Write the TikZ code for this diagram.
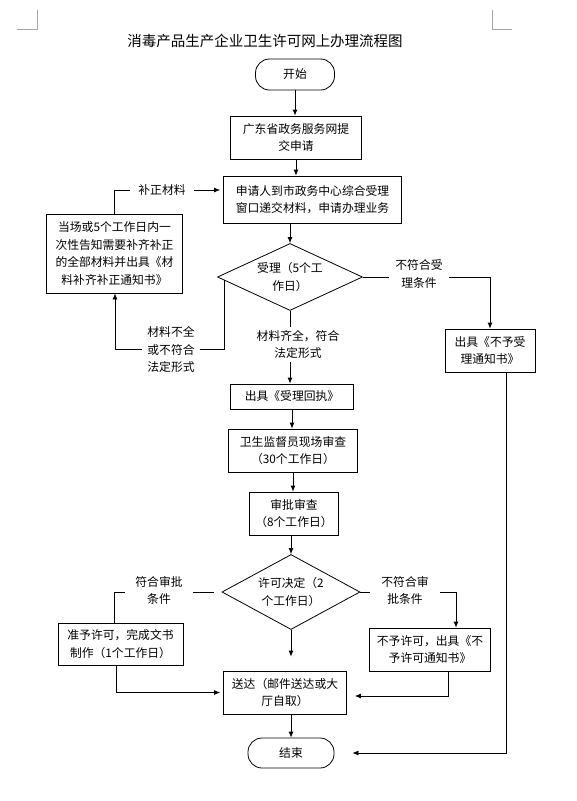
\documentclass[tikz,border=0pt]{standalone}
\usepackage{fontspec}
\setmainfont{Noto Sans CJK SC}
\usetikzlibrary{shapes.geometric,arrows.meta}

\begin{document}
\begin{tikzpicture}[x=1pt,y=-1pt,
		every node/.style={font=\fontsize{11.8}{17.5}\selectfont, align=center, inner sep=0pt},
		box/.style={draw, line width=0.8pt, fill=white},
		term/.style={draw, line width=0.8pt, rounded corners=14pt},
		choice/.style={draw, diamond, line width=0.8pt, aspect=2.1},
		note/.style={fill=white, inner xsep=8pt, inner ysep=3pt},
		every path/.style={line width=0.8pt},
		>={Latex[length=6pt,width=5pt]}]
		\useasboundingbox (0,0) rectangle (576,801);

		\draw[gray!70] (17,29) -- (37,29) -- (37,10);
		\draw[gray!70] (492,10) -- (492,29) -- (512,29);

		\node[font=\fontsize{14.5}{17}\selectfont] (title) at (265,41) {消毒产品生产企业卫生许可网上办理流程图};

		\node[term, minimum width=79pt, minimum height=31pt] (start) at (295,74.5) {开始};
		\node[box, minimum width=131pt, minimum height=43pt] (submit) at (296,137.5) {广东省政务服务网提\\交申请};
		\node[box, minimum width=178pt, minimum height=47pt] (window) at (312.5,199.5) {申请人到市政务中心综合受理\\窗口递交材料，申请办理业务};
		\node[box, minimum width=136pt, minimum height=79pt] (notify) at (114.5,253.5) {当场或5个工作日内一\\次性告知需要补齐补正\\的全部材料并出具《材\\料补齐补正通知书》};
		\node[choice, minimum width=145pt, minimum height=67pt] (accept) at (290,277) {受理（5个工\\作日）};
		\node[box, minimum width=90pt, minimum height=43pt] (refuse) at (490,350.5) {出具《不予受\\理通知书》};
		\node[box, minimum width=123pt, minimum height=25pt] (receipt) at (292,396.5) {出具《受理回执》};
		\node[box, minimum width=129pt, minimum height=43pt] (inspect) at (293,450.5) {卫生监督员现场审查\\（30个工作日）};
		\node[box, minimum width=89pt, minimum height=43pt] (review) at (294,513.5) {审批审查\\（8个工作日）};
		\node[choice, minimum width=138pt, minimum height=75pt] (decide) at (291,592) {许可决定（2\\个工作日）};
		\node[box, minimum width=125pt, minimum height=42pt] (grant) at (120.5,644) {准予许可，完成文书\\制作（1个工作日）};
		\node[box, minimum width=121pt, minimum height=43pt] (deny) at (430,649.5) {不予许可，出具《不\\予许可通知书》};
		\node[box, minimum width=123pt, minimum height=43pt] (deliver) at (285,692.5) {送达（邮件送达或大\\厅自取）};
		\node[term, minimum width=86pt, minimum height=30pt] (finish) at (291,753) {结束};

		\coordinate (bendA) at (115,349);

		\draw[->] (start.south) -- (start.south |- submit.north);
		\draw[->] (submit.south) -- (submit.south |- window.north);
		\draw[->] (window.south -| accept.north) -- (accept.north);
		\draw[->] (accept.south) -- (accept.south |- receipt.north);
		\draw[->] ([xshift=7pt,yshift=-3pt]accept.west) |- (bendA) -- (bendA |- notify.south);
		\draw[->, shorten >=3pt] (notify.north) |- ([yshift=9.5pt]window.west);
		\draw[->] (accept.east) -| (refuse.north);
		\draw[->, shorten >=18pt] ([xshift=16pt]refuse.south) |- (finish.east);
		\draw[->] (receipt.south) -- (receipt.south |- inspect.north);
		\draw[->] (inspect.south) -- (inspect.south |- review.north);
		\draw[->] (review.south -| decide.north) -- (decide.north);
		\draw[->, shorten >=14pt] (decide.south) -- (decide.south |- deliver.north);
		\draw[shorten <=8pt] (decide.west) -| ([xshift=-6.5pt]grant.north);
		\draw[->, shorten >=3pt] ([xshift=-4.5pt]grant.south) |- (deliver.west);
		\draw[->] (decide.east) -| ([xshift=26pt]deny.north);
		\draw[->, shorten >=8pt] ([xshift=18pt]deny.south) |- ([yshift=-3.5pt]deliver.east);
		\draw[->] (deliver.south -| finish.north) -- (finish.north);

		\node[note, inner xsep=8.5pt] (lblfix) at (162,190) {补正材料};
		\node[note, inner xsep=5pt] (lblshort) at (171,349.5) {材料不全\\或不符合\\法定形式};
		\node[note] (lblfull) at (298,344.5) {材料齐全，符合\\法定形式};
		\node[note, inner xsep=6pt] (lblnoacc) at (419,274) {不符合受\\理条件};
		\node[note, inner xsep=10pt] (lblok) at (159,590.5) {符合审批\\条件};
		\node[note, inner xsep=11pt] (lblno) at (405,590.5) {不符合审\\批条件};
\end{tikzpicture}
\end{document}
